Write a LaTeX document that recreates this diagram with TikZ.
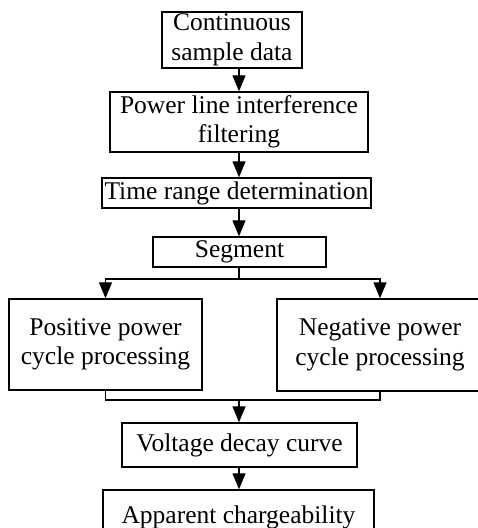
\documentclass[tikz,border=0pt]{standalone}
\usepackage{fontspec}
\setmainfont{Liberation Serif}
\usetikzlibrary{arrows.meta}
\begin{document}
\begin{tikzpicture}[x=1pt,y=-1pt,
  box/.style={draw, line width=1.4pt, rectangle, inner sep=0pt, align=center,
    font=\fontsize{25.5}{29.5}\selectfont},
  flow/.style={line width=1.3pt, -{Triangle[width=13pt,length=16pt]}},
  link/.style={line width=1.3pt}]
\useasboundingbox (0,0) rectangle (478,528);
\node[box, minimum width=140, minimum height=56] (cont) at (232,40) {Continuous\\sample data};
\node[box, minimum width=258, minimum height=60] (filt) at (239,122) {Power line interference\\filtering};
\node[box, minimum width=269, minimum height=30] (time) at (236.5,193) {Time range determination};
\node[box, minimum width=173, minimum height=30] (seg) at (239.5,252) {Segment};
\node[box, minimum width=193, minimum height=91] (pos) at (105.5,344.5) {Positive power\\cycle processing};
% the box runs past the right edge; the text stays centred on its arrow
\node[box, minimum width=220, minimum height=92] (neg) at (387,345)
  {Negative power\hspace*{14pt}\\cycle processing\hspace*{14pt}};
\node[box, minimum width=235, minimum height=44] (volt) at (239.5,445) {Voltage decay curve};
\node[box, minimum width=271, minimum height=54] (app) at (238.5,517) {Apparent chargeability};
\coordinate (split) at (239,279);
\coordinate (merge) at (239,400);
\coordinate (negx) at (380,0);
\draw[flow] (cont.south -| filt.north) -- (filt.north);
\draw[flow] (filt.south) -- (filt.south |- time.north);
\draw[flow] (filt.south |- time.south) -- (seg.north -| filt.south);
\draw[link] (seg.south -| split) -- (split);
\draw[flow] (split) -| (pos.north);
\draw[flow] (split) -| (neg.north -| negx);
\draw[link] (pos.south) |- (merge) -| (neg.south -| negx);
\draw[flow] (merge) -- (merge |- volt.north);
\draw[flow] (merge |- volt.south) -- (merge |- app.north);
\end{tikzpicture}
\end{document}
